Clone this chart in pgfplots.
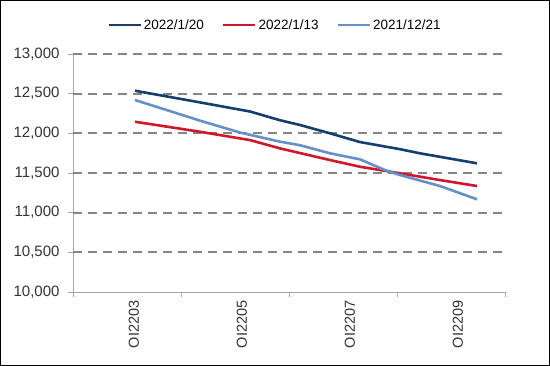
\documentclass[border=0pt]{standalone}
\usepackage{pgfplots}
\pgfplotsset{compat=1.18}
\usepackage{fontspec}
\setmainfont{Liberation Sans}
\definecolor{cdark}{HTML}{173F6E}
\definecolor{cred}{HTML}{D0182A}
\definecolor{clight}{HTML}{6690C8}
\definecolor{cgrid}{HTML}{858585}
\definecolor{caxis}{HTML}{A6A6A6}
\begin{document}
\begin{tikzpicture}
\useasboundingbox (0,0) rectangle (550pt,366pt);
\begin{axis}[
  at={(73pt,74pt)}, anchor=south west,
  scale only axis, width=432pt, height=238pt,
  xmin=-0.5, xmax=3.5, ymin=10000, ymax=13000,
  axis lines*=left,
  axis line style={caxis, line width=0.8pt},
  tick align=outside,
  tick style={caxis, line width=0.8pt},
  major tick length=5pt,
  minor tick length=5pt,
  xtick={0,1,2,3},
  xticklabels={OI2203,OI2205,OI2207,OI2209},
  x tick style={draw=none},
  minor xtick={-0.5,0.5,1.5,2.5,3.5},
  minor x tick style={caxis, line width=0.8pt, draw=caxis},
  xticklabel style={rotate=90, anchor=east, font=\fontsize{14.5}{17}\selectfont, text=black!80, yshift=-7pt},
  ytick={10000,10500,...,13000},
  scaled y ticks=false,
  yticklabel style={font=\fontsize{15}{18}\selectfont, text=black!80, xshift=-5pt},
  /pgf/number format/.cd, 1000 sep={,}, assume math mode=true, /pgfplots/.cd,
  extra y ticks={10500,11000,11500,12000,12500,13000},
  extra y tick labels={},
  extra y tick style={grid=major, major tick length=0pt},
  major grid style={cgrid, line width=2pt, dash pattern=on 9pt off 6pt},
  legend style={at={(0.4676,1.122)}, anchor=center, draw=none, fill=none,
    font=\fontsize{13.5}{16}\selectfont, legend columns=3,
    /tikz/every even column/.append style={column sep=16pt}},
  legend image code/.code={\draw[#1, line width=2.6pt] (0pt,0pt) -- (32pt,0pt);},
  every axis plot/.append style={line width=2.6pt},
]
\addplot[cdark] coordinates {
(0.074,12537) (0.676,12390) (1.139,12275) (1.417,12165) (1.602,12105) (1.880,12000)
(2.157,11890) (2.528,11800) (2.713,11748) (3.241,11622)};
\addlegendentry{2022/1/20}
\addplot[cred] coordinates {
(0.074,12146) (0.676,12020) (1.139,11915) (1.417,11810) (1.880,11663) (2.157,11579)
(2.528,11496) (2.898,11411) (3.241,11336)};
\addlegendentry{2022/1/13}
\addplot[clight] coordinates {
(0.074,12420) (0.676,12160) (1.046,12010) (1.417,11895) (1.602,11850) (1.880,11748)
(2.157,11672) (2.389,11537) (2.528,11474) (2.898,11336) (3.241,11168)};
\addlegendentry{2021/12/21}
\end{axis}
\draw[black, line width=1pt] (0.5pt,0.5pt) rectangle (549.5pt,365.5pt);
\end{tikzpicture}
\end{document}
